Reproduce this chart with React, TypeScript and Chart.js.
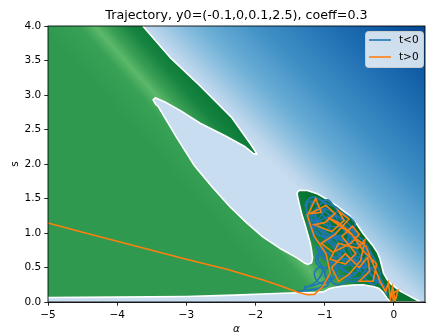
import React, { useEffect, useRef } from 'react';
import { Chart, registerables } from 'chart.js';

Chart.register(...registerables);

const titleText = 'Trajectory, y0=(-0.1,0,0.1,2.5), coeff=0.3';
const xTitle = 'α';
const yTitle = 's';
const seriesLabels = ['t<0', 't>0'];
const seriesColors = ['#1f77b4', '#ff7f0e'];

const xTickValues = [-5, -4, -3, -2, -1, 0];
const xTickLabels = ['−5', '−4', '−3', '−2', '−1', '0'];
const yTickValues = [0, 0.5, 1, 1.5, 2, 2.5, 3, 3.5, 4];
const yTickLabels = ['0.0', '0.5', '1.0', '1.5', '2.0', '2.5', '3.0', '3.5', '4.0'];

// zero contour (boundary of the green region), in (alpha, s)
const contourAlpha = [
  -3.63, -3.24, -2.80, -2.35, -2.08, -2.00, -1.98, -2.03, -2.15, -2.44, -2.80, -3.08, -3.31, -3.45, -3.48, -3.44,
  -3.41, -3.15, -2.88, -2.62, -2.37, -2.12, -1.89, -1.65, -1.40, -1.30, -1.24, -1.19, -1.175, -1.19, -1.21, -1.25,
  -1.29, -1.33, -1.36, -1.39, -1.40, -1.37, -1.25, -1.11, -0.97, -0.82, -0.64, -0.53, -0.45, -0.37, -0.30, -0.24,
  -0.20, -0.17, -0.15, -0.10, -0.04, 0.09, 0.20, 0.29, 0.36, 0.38, -0.05, -0.07, -0.10, -0.16, -0.22, -0.30,
  -0.45, -0.60, -0.74, -0.87, -0.94, -1.01, -1.10, -1.40, -1.80, -2.30, -3.00, -4.00, -5.00,
];
const contourS = [
  4.00, 3.55, 3.13, 2.68, 2.30, 2.18, 2.14, 2.15, 2.25, 2.41, 2.59, 2.77, 2.90, 2.96, 2.93, 2.86,
  2.84, 2.40, 1.97, 1.66, 1.38, 1.14, 0.94, 0.78, 0.64, 0.57, 0.545, 0.57, 0.64, 0.75, 0.86, 1.00,
  1.14, 1.27, 1.39, 1.52, 1.58, 1.62, 1.615, 1.57, 1.49, 1.39, 1.25, 1.12, 1.00, 0.90, 0.81, 0.72,
  0.62, 0.50, 0.42, 0.33, 0.26, 0.16, 0.10, 0.05, 0.015, 0.00, 0.00, 0.02, 0.06, 0.145, 0.20, 0.225,
  0.25, 0.245, 0.23, 0.21, 0.19, 0.15, 0.14, 0.135, 0.12, 0.10, 0.08, 0.07, 0.065,
];

// trajectory, t<0
const negAlpha = [
  -1.40, -1.20, -1.05, -0.98, -1.06, -1.15, -1.08, -0.92, -0.82, -0.90, -1.08, -1.12, -0.95, -0.78, -0.82, -1.00,
  -1.15, -1.20, -1.10, -0.98, -1.08, -1.18, -1.05, -0.85, -0.75, -0.88, -1.05, -1.15, -1.00, -0.80, -0.66, -0.68,
  -0.82, -0.70, -0.56, -0.54, -0.66, -0.64, -0.52, -0.56, -0.70, -0.62, -0.46, -0.36, -0.42, -0.38, -0.50, -0.72,
  -0.92, -1.08, -1.12, -0.98, -0.85, -0.70, -0.58, -0.46, -0.32, -0.26, -0.30, -0.22, -0.14, -0.10, -0.20, -0.35,
  -0.60, -0.88, -1.00, -0.95, -1.10, -1.30,
  -1.12, -1.02, -1.10, -1.00, -1.14, -1.22, -1.26, -1.24, -1.12, -1.02, -0.92, -1.02, -0.92, -0.76, -0.62, -0.60,
  -0.72, -0.86, -0.96, -1.08, -1.20, -1.10, -0.94, -0.80, -0.70, -0.60, -0.48, -0.40, -0.28, -0.20, -0.28, -0.40,
  -0.52, -0.66, -0.84, -0.96, -0.90, -0.74, -0.58, -0.46, -0.50, -0.64, -0.78, -0.92, -0.86, -0.72, -0.62, -0.74,
  -0.96, -1.06, -0.98, -0.86, -0.74, -0.56, -0.44, -0.36, -0.34, -0.24, -0.16,
  -0.30, -0.48, -0.66, -0.84, -1.00, -1.16, -1.28, -1.18, -1.04, -0.90, -0.80, -0.94, -1.10, -1.18, -1.06, -0.88,
  -0.70, -0.56, -0.68, -0.84, -0.78, -0.62, -0.50, -0.40, -0.30, -0.26, -0.40, -0.56, -0.72, -0.86, -1.02, -1.12,
  -1.02, -0.86, -0.70, -0.52, -0.42, -0.46, -0.58, -0.80, -1.00, -1.16, -1.30,
];
const negS = [
  0.16, 0.17, 0.22, 0.35, 0.50, 0.42, 0.28, 0.30, 0.48, 0.68, 0.72, 0.56, 0.50, 0.62, 0.88, 1.02,
  1.20, 1.40, 1.50, 1.38, 1.22, 1.08, 0.95, 1.00, 1.15, 1.30, 1.35, 1.28, 1.12, 1.08, 1.02, 0.84,
  0.74, 0.58, 0.68, 0.88, 0.94, 0.74, 0.55, 0.40, 0.36, 0.30, 0.33, 0.45, 0.60, 0.74, 0.82, 0.88,
  0.96, 1.10, 1.35, 1.30, 1.18, 1.10, 1.00, 0.78, 0.58, 0.45, 0.32, 0.30, 0.24, 0.12, 0.35, 0.50,
  0.62, 0.58, 0.42, 0.25, 0.20, 0.18,
  0.30, 0.48, 0.62, 0.80, 0.92, 1.10, 1.30, 1.45, 1.42, 1.25, 1.12, 0.98, 0.85, 0.80, 0.88, 1.06,
  1.20, 1.38, 1.48, 1.40, 1.22, 1.00, 0.92, 0.96, 0.70, 0.52, 0.45, 0.32, 0.26, 0.40, 0.60, 0.84,
  0.96, 1.14, 1.24, 1.18, 1.02, 0.90, 0.78, 0.62, 0.46, 0.42, 0.50, 0.40, 0.26, 0.28, 0.38, 0.46,
  0.60, 0.76, 0.90, 0.78, 0.64, 0.60, 0.70, 0.62, 0.42, 0.34, 0.22,
  0.36, 0.52, 0.66, 0.84, 0.96, 1.16, 1.40, 1.52, 1.46, 1.40, 1.34, 1.24, 1.16, 0.98, 0.86, 0.92,
  1.00, 1.12, 1.26, 1.30, 1.12, 0.94, 0.86, 0.74, 0.66, 0.52, 0.50, 0.56, 0.52, 0.56, 0.64, 0.80,
  0.72, 0.66, 0.62, 0.66, 0.56, 0.38, 0.34, 0.38, 0.30, 0.24, 0.22,
];

// trajectory, t>0
const posAlpha = [
  -5.00, -4.50, -4.00, -3.50, -3.00, -2.40, -2.10, -1.89, -1.60, -1.40, -1.25, -1.15, -1.03, -0.92, -0.98, -1.15,
  -1.25, -1.13, -1.05, -1.22, -0.98, -0.85, -1.00, -1.15, -0.90, -0.72, -0.80, -0.65, -0.85, -1.05, -0.88, -0.62,
  -0.50, -0.60, -0.75, -0.55, -0.70, -0.92, -0.80, -0.52, -0.42, -0.48, -0.65, -0.80, -0.90, -0.70, -0.50, -0.38,
  -0.35, -0.50, -0.45, -0.30, -0.25, -0.45, -0.62, -0.80, -0.95, -0.70, -0.40, -0.28, -0.20, -0.12, -0.08, -0.05,
  -0.02, 0.02, 0.06, -0.03, 0.00,
];
const posS = [
  1.145, 1.01, 0.88, 0.75, 0.62, 0.47, 0.38, 0.32, 0.22, 0.145, 0.105, 0.11, 0.22, 0.42, 0.70, 0.95,
  1.25, 1.50, 1.30, 1.28, 1.40, 1.28, 1.15, 1.12, 1.02, 1.18, 1.32, 1.20, 0.98, 0.85, 0.72, 0.85,
  0.98, 1.10, 0.95, 0.70, 0.55, 0.62, 0.85, 0.78, 0.90, 0.60, 0.40, 0.30, 0.50, 0.70, 0.50, 0.65,
  0.45, 0.30, 0.30, 0.30, 0.55, 0.75, 1.00, 1.15, 1.22, 1.05, 0.80, 0.50, 0.30, 0.15, 0.28, 0.05,
  0.22, 0.02, 0.17, 0.12, 0.00,
];

const FONT = "'DejaVu Sans', sans-serif";

const fieldPlugin: any = {
  id: 'field',
  beforeDatasetsDraw(chart: any) {
    const { ctx, chartArea: ca, scales } = chart;
    const xs = scales.x;
    const ys = scales.y;
    const px = (a: number) => xs.getPixelForValue(a);
    const py = (s: number) => ys.getPixelForValue(s);
    ctx.save();
    ctx.beginPath();
    ctx.rect(ca.left, ca.top, ca.right - ca.left, ca.bottom - ca.top);
    ctx.clip();

    // blue field
    const bg = ctx.createLinearGradient(px(-1.647), py(1.84), px(0.484), py(3.978));
    bg.addColorStop(0, '#c9ddf0');
    bg.addColorStop(0.051, '#bed7ec');
    bg.addColorStop(0.153, '#8fc1e0');
    bg.addColorStop(0.254, '#68acd5');
    bg.addColorStop(0.424, '#4191c6');
    bg.addColorStop(0.661, '#2171b5');
    bg.addColorStop(0.864, '#0d58a1');
    bg.addColorStop(1, '#08468f');
    ctx.fillStyle = bg;
    ctx.fillRect(ca.left, ca.top, ca.right - ca.left, ca.bottom - ca.top);

    // green region
    const pts = contourAlpha.map((a, i) => [px(a), py(contourS[i])]);
    ctx.beginPath();
    ctx.moveTo(px(xs.min), py(ys.max));
    pts.forEach((p) => ctx.lineTo(p[0], p[1]));
    ctx.closePath();
    const ax = px(-4.32);
    const ay = py(4.0);
    const dx = 0.75;
    const dy = -0.66;
    const gg = ctx.createLinearGradient(ax - 40 * dx, ay - 40 * dy, ax + 80 * dx, ay + 80 * dy);
    gg.addColorStop(0, '#2f9950');
    gg.addColorStop(0.233, '#37a155');
    gg.addColorStop(0.333, '#5cb86a');
    gg.addColorStop(0.417, '#3a9f55');
    gg.addColorStop(0.542, '#178541');
    gg.addColorStop(0.708, '#087634');
    gg.addColorStop(1, '#006428');
    ctx.fillStyle = gg;
    ctx.fill();

    // white zero contour
    ctx.beginPath();
    pts.forEach((p, i) => (i === 0 ? ctx.moveTo(p[0], p[1]) : ctx.lineTo(p[0], p[1])));
    ctx.strokeStyle = '#ffffff';
    ctx.lineWidth = 1.6;
    ctx.lineJoin = 'round';
    ctx.stroke();
    ctx.restore();
  },
  afterDatasetsDraw(chart: any) {
    const { ctx, chartArea: ca } = chart;
    ctx.save();
    ctx.strokeStyle = '#000';
    ctx.lineWidth = 0.85;
    ctx.strokeRect(ca.left, ca.top, ca.right - ca.left, ca.bottom - ca.top);
    ctx.restore();
  },
  afterDraw(chart: any) {
    const { ctx, chartArea: ca } = chart;
    ctx.save();
    // title, centred over the axes
    ctx.font = `12.7px ${FONT}`;
    ctx.fillStyle = '#000';
    ctx.textAlign = 'center';
    ctx.textBaseline = 'alphabetic';
    ctx.fillText(titleText, (ca.left + ca.right) / 2, ca.top - 6.7);

    // legend
    const w = 58;
    const h = 36;
    const x0 = ca.right - 2 - w;
    const y0 = ca.top + 5;
    ctx.beginPath();
    ctx.roundRect(x0 + 0.5, y0 + 0.5, w, h, 3);
    ctx.fillStyle = 'rgba(255,255,255,0.8)';
    ctx.fill();
    ctx.strokeStyle = '#cccccc';
    ctx.lineWidth = 1;
    ctx.stroke();
    ctx.font = `10.5px ${FONT}`;
    ctx.textBaseline = 'middle';
    ctx.textAlign = 'left';
    seriesLabels.forEach((lab, i) => {
      const yy = y0 + 9 + i * 17;
      ctx.beginPath();
      ctx.moveTo(x0 + 4, yy);
      ctx.lineTo(x0 + 26, yy);
      ctx.strokeStyle = seriesColors[i];
      ctx.lineWidth = 1.6;
      ctx.stroke();
      ctx.fillStyle = '#000';
      ctx.fillText(lab, x0 + 34, yy);
    });
    ctx.restore();
  },
};

export default function App() {
  const ref = useRef<HTMLCanvasElement | null>(null);
  useEffect(() => {
    if (!ref.current) return;
    const toPts = (xa: number[], ya: number[]) => xa.map((a, i) => ({ x: a, y: ya[i] }));
    const chart = new Chart(ref.current, {
      type: 'scatter',
      data: {
        datasets: [
          {
            label: seriesLabels[0],
            data: toPts(negAlpha, negS),
            showLine: true,
            borderColor: seriesColors[0],
            backgroundColor: seriesColors[0],
            borderWidth: 1.6,
            pointRadius: 0,
            tension: 0.4,
            order: 2,
          },
          {
            label: seriesLabels[1],
            data: toPts(posAlpha, posS),
            showLine: true,
            borderColor: seriesColors[1],
            backgroundColor: seriesColors[1],
            borderWidth: 1.6,
            pointRadius: 0,
            tension: 0,
            order: 1,
          },
        ],
      } as any,
      options: {
        animation: false,
        responsive: false,
        maintainAspectRatio: false,
        layout: { padding: { left: 0, right: 1, top: 26, bottom: 0 } },
        plugins: {
          legend: { display: false },
          tooltip: { enabled: false },
          title: { display: false },
        },
        scales: {
          x: {
            type: 'linear',
            min: -5,
            max: 0.45,
            afterBuildTicks: (s: any) => {
              s.ticks = xTickValues.map((v) => ({ value: v }));
            },
            afterFit: (s: any) => {
              s.height = 33;
            },
            ticks: {
              callback: (v: any) => {
                const i = xTickValues.indexOf(Number(v));
                return i >= 0 ? xTickLabels[i] : '';
              },
              color: '#000',
              font: { family: FONT, size: 10.5 },
              padding: 3.5,
              maxRotation: 0,
              autoSkip: false,
            },
            grid: { display: true, drawOnChartArea: false, drawTicks: true, tickLength: 3.7, color: '#000', tickWidth: 0.85 },
            border: { display: true, color: '#000', width: 0.85 },
            title: { display: true, text: xTitle, color: '#000', font: { family: FONT, size: 10.5, style: 'italic', lineHeight: 1.0 }, padding: { top: 0, bottom: 0 } },
          },
          y: {
            type: 'linear',
            min: 0,
            max: 4,
            afterBuildTicks: (s: any) => {
              s.ticks = yTickValues.map((v) => ({ value: v }));
            },
            afterFit: (s: any) => {
              s.width = 48;
            },
            ticks: {
              callback: (v: any) => {
                const i = yTickValues.indexOf(Number(v));
                return i >= 0 ? yTickLabels[i] : '';
              },
              color: '#000',
              font: { family: FONT, size: 10.5 },
              padding: 3,
              autoSkip: false,
            },
            grid: { display: true, drawOnChartArea: false, drawTicks: true, tickLength: 3.7, color: '#000', tickWidth: 0.85 },
            border: { display: true, color: '#000', width: 0.85 },
            title: { display: true, text: yTitle, color: '#000', font: { family: FONT, size: 10.5 }, padding: { top: 9, bottom: 0 } },
          },
        },
      } as any,
      plugins: [fieldPlugin],
    });
    return () => chart.destroy();
  }, []);
  return (
    <div style={{ position: 'absolute', left: 0, top: 0, width: 426, height: 335, background: '#fff' }}>
      <canvas ref={ref} width={426} height={335} />
    </div>
  );
}
